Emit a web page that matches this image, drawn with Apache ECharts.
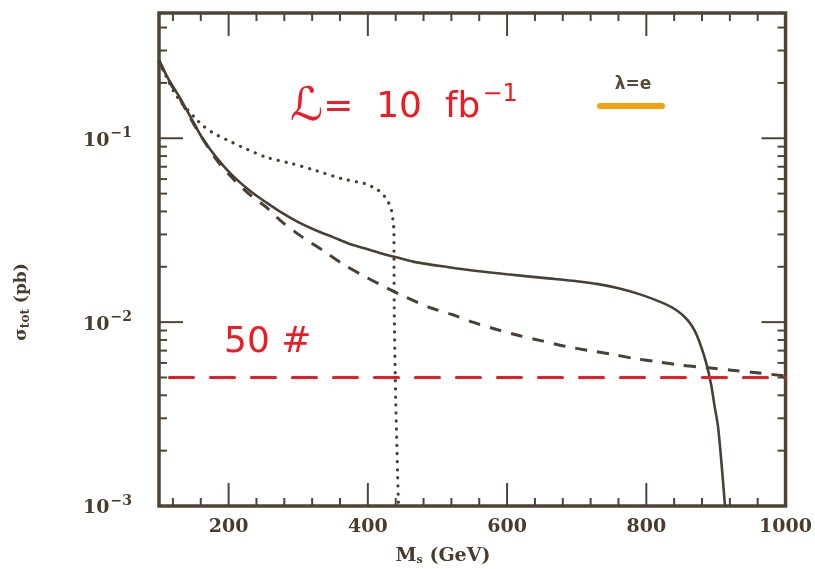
<!DOCTYPE html>
<html><head><meta charset="utf-8">
<script src="https://cdn.jsdelivr.net/npm/echarts@6/dist/echarts.min.js"></script>
<style>html,body{margin:0;padding:0;background:#fff}#c{width:815px;height:569px}</style>
</head><body><div id="c"></div>
<script>
// ---- data (M_s in GeV, sigma_tot in pb) ----
const solidMass  = [100,115,130,149,161,182,205,230,255,278,300,325,350,373,400,420,445,468,516,560,600,659,700,731,760,790,826,845,860,870,879,886,893,898,903,908,913];
const solidSigma = [0.265,0.205,0.166,0.123,0.102,0.079,0.063,0.052,0.0445,0.039,0.035,0.0316,0.029,0.0267,0.0249,0.0236,0.0223,0.0212,0.0199,0.0189,0.0182,0.0173,0.0167,0.0161,0.0153,0.0142,0.0126,0.0115,0.0102,0.0089,0.0073,0.006,0.0046,0.0035,0.0027,0.0017,0.001];

const dashMass  = [100,115,130,149,182,205,230,254,277,306,335,363,397,425,454,492,521,552,585,617,650,683,716,750,783,817,850,886,922,955,1000];
const dashSigma = [0.265,0.203,0.164,0.121,0.077,0.061,0.0495,0.0422,0.035,0.029,0.0246,0.0208,0.0176,0.0155,0.0137,0.0119,0.011,0.00996,0.00912,0.00846,0.00791,0.0074,0.00702,0.00669,0.00634,0.00608,0.00583,0.00566,0.00548,0.00532,0.0051];

const dotMass  = [100,112,122.5,133,144,153.5,163,172.6,184.5,200,220,254,292,325,363,397,412,421,428,433,436,437.4,437.6,438,440,444];
const dotSigma = [0.262,0.21,0.176,0.155,0.139,0.127,0.117,0.110,0.1035,0.097,0.0893,0.0788,0.0726,0.0668,0.0602,0.0565,0.053,0.0499,0.0458,0.0422,0.036,0.0315,0.02,0.0107,0.0038,0.001];

const limitMass  = [115,1000];
const limitSigma = [0.005,0.005];

const xLabelTicks = [200,400,600,800,1000];
const xMajorTicks = [200,400,600,800];
const xMinorTicks = [120,160,240,280,320,360,440,480,520,560,640,680,720,760,840,880,920,960];
const yMajorTicks = [0.01,0.1];
const yMinorTicks = [0.002,0.003,0.004,0.005,0.006,0.007,0.008,0.009,0.02,0.03,0.04,0.05,0.06,0.07,0.08,0.09,0.2,0.3,0.4];

const X_MIN = 100, X_MAX = 1000, Y_MIN = 0.001, Y_MAX = 0.48;

// ---- styles ----
const FRAME = '#4f4336';
const CURVE = '#4a4036';
const LABEL = '#4a3b2b';
const RED = '#ec1c24';

const zip = (a,b) => a.map((v,i)=>[v,b[i]]);

function xTicks(len){
  return function(params, api){
    const cs = params.coordSys;
    const x = api.coord([api.value(0), Y_MIN])[0];
    const b = cs.y + cs.height, t = cs.y;
    return {type:'group', children:[
      {type:'line', shape:{x1:x,y1:b,x2:x,y2:b-len}, style:{stroke:FRAME,lineWidth:2}},
      {type:'line', shape:{x1:x,y1:t,x2:x,y2:t+len}, style:{stroke:FRAME,lineWidth:2}}
    ]};
  };
}
function yTicks(len){
  return function(params, api){
    const cs = params.coordSys;
    const y = api.coord([X_MIN, api.value(1)])[1];
    const l = cs.x, r = cs.x + cs.width;
    return {type:'group', children:[
      {type:'line', shape:{x1:l,y1:y,x2:l+len,y2:y}, style:{stroke:FRAME,lineWidth:2}},
      {type:'line', shape:{x1:r,y1:y,x2:r-len,y2:y}, style:{stroke:FRAME,lineWidth:2}}
    ]};
  };
}

const chart = echarts.init(document.getElementById('c'), null, {renderer:'canvas'});
const option = {
  backgroundColor:'#ffffff',
  animation:false,
  grid:{left:159, right:27, top:13, bottom:63, show:true, borderColor:FRAME, borderWidth:3.5, backgroundColor:'transparent'},
  xAxis:{
    type:'value', min:X_MIN, max:X_MAX, interval:100,
    axisLine:{show:false}, axisTick:{show:false}, splitLine:{show:false},
    axisLabel:{
      margin:12, color:LABEL, fontFamily:'DejaVu Serif', fontWeight:'bold', fontSize:19,
      formatter:(v)=> xLabelTicks.indexOf(Math.round(v))>=0 ? String(Math.round(v)) : ''
    }
  },
  yAxis:{
    type:'log', logBase:10, min:Y_MIN, max:Y_MAX,
    axisLine:{show:false}, axisTick:{show:false}, splitLine:{show:false},
    axisLabel:{
      margin:27, color:LABEL,
      formatter:(v)=>{
        const e = Math.log10(v);
        if (Math.abs(e-Math.round(e))>1e-6) return '';
        return '{b|10}{s|−' + Math.abs(Math.round(e)) + '}';
      },
      rich:{
        b:{fontFamily:'DejaVu Serif', fontWeight:'bold', fontSize:19, color:LABEL, verticalAlign:'bottom'},
        s:{fontFamily:'DejaVu Serif', fontWeight:'bold', fontSize:14, color:LABEL, padding:[0,0,10,1], verticalAlign:'bottom'}
      }
    }
  },
  series:[
    {type:'custom', data:xMajorTicks.map(v=>[v,Y_MIN]), renderItem:xTicks(23), silent:true, z:5},
    {type:'custom', data:xMinorTicks.map(v=>[v,Y_MIN]), renderItem:xTicks(8), silent:true, z:5},
    {type:'custom', data:yMajorTicks.map(v=>[X_MIN,v]), renderItem:yTicks(24), silent:true, z:5},
    {type:'custom', data:yMinorTicks.map(v=>[X_MIN,v]), renderItem:yTicks(8), silent:true, z:5},
    {type:'line', data:zip(solidMass,solidSigma), showSymbol:false, smooth:0.3, lineStyle:{color:CURVE,width:2.6}},
    {type:'line', data:zip(dashMass,dashSigma), showSymbol:false, smooth:0.3, lineStyle:{color:CURVE,width:3,type:[12,10]}},
    {type:'line', data:zip(dotMass,dotSigma), showSymbol:false, smooth:0.2, lineStyle:{color:CURVE,width:3.2,type:[0.1,8],cap:'round'}},
    {type:'line', data:zip(limitMass,limitSigma), showSymbol:false, lineStyle:{color:RED,width:3.2,type:[24,17],cap:'round'}}
  ],
  graphic:[
    {type:'text', x:22, y:302, rotation:Math.PI/2, style:{
      text:'{a|σ}{sub|tot}{a| (pb)}', align:'center', verticalAlign:'middle',
      rich:{a:{fontFamily:'DejaVu Serif',fontWeight:'bold',fontSize:17,fill:LABEL}, sub:{fontFamily:'DejaVu Serif',fontWeight:'bold',fontSize:12,fill:LABEL,padding:[7,0,0,0]}}
    }},
    {type:'text', x:443, y:556, style:{
      text:'{a|M}{sub|s}{a| (GeV)}', align:'center', verticalAlign:'middle',
      rich:{a:{fontFamily:'DejaVu Serif',fontWeight:'bold',fontSize:19,fill:LABEL}, sub:{fontFamily:'DejaVu Serif',fontWeight:'bold',fontSize:11,fill:LABEL,padding:[9,0,0,0]}}
    }},
    {type:'text', x:290, y:108, style:{
      text:'{l|ℒ}{m|=  10  fb}{s|−1}', align:'left', verticalAlign:'middle',
      rich:{l:{fontFamily:'DejaVu Sans',fontSize:46,fill:RED}, m:{fontFamily:'DejaVu Sans',fontSize:36,fill:RED}, s:{fontFamily:'DejaVu Sans',fontSize:24,fill:RED,padding:[0,0,26,2]}}
    }},
    {type:'text', x:224, y:343, style:{
      text:'50 #', align:'left', verticalAlign:'middle',
      font:'36px "DejaVu Sans"', fill:RED
    }},
    {type:'text', x:633, y:85, style:{
      text:'λ=e', align:'center', verticalAlign:'middle',
      font:'bold 17px "DejaVu Sans"', fill:'#5a4a3a'
    }},
    {type:'line', shape:{x1:600,y1:106,x2:662,y2:106}, style:{stroke:'#f5a20e',lineWidth:6,lineCap:'round'}}
  ]
};
chart.setOption(option);
</script>
</body></html>
